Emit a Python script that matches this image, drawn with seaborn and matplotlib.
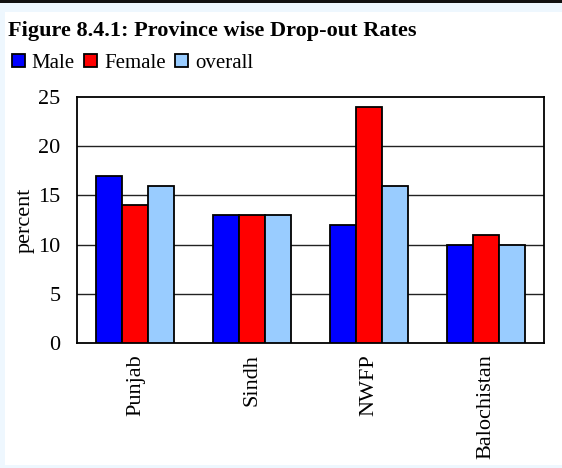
import pandas as pd
import matplotlib.pyplot as plt
import seaborn as sns
from matplotlib.patches import Rectangle, Patch

# Data
provinces = ['Punjab', 'Sindh', 'NWFP', 'Balochistan']
male = [17, 13, 12, 10]
female = [14, 13, 24, 11]
overall = [16, 13, 16, 10]
series_names = ['Male', 'Female', 'overall']
colors = ['#0000ff', '#ff0000', '#99ccff']
y_ticks = [0, 5, 10, 15, 20, 25]

df = pd.DataFrame({'province': provinces, 'Male': male, 'Female': female, 'overall': overall})
long_df = df.melt(id_vars='province', var_name='series', value_name='value')

sns.set_style('white')
plt.rcParams['font.family'] = ['Liberation Serif', 'DejaVu Serif']
plt.rcParams['text.color'] = 'black'
plt.rcParams['xtick.color'] = 'black'
plt.rcParams['ytick.color'] = 'black'
plt.rcParams['axes.labelcolor'] = 'black'

fig = plt.figure(figsize=(5.62, 4.68), dpi=100, facecolor='#eef7fe')
W, H = 562, 468

# white panel and top dark bar
fig.patches.append(Rectangle((5 / W, 3 / H), 1 - 5 / W, 1 - 15 / H, transform=fig.transFigure,
                             facecolor='white', edgecolor='none', zorder=-2))
fig.patches.append(Rectangle((0, 1 - 3 / H), 1, 3 / H, transform=fig.transFigure,
                             facecolor='#111111', edgecolor='none', zorder=-2))

ax = fig.add_axes([77 / W, 1 - 343 / H, (544 - 77) / W, (343 - 97) / H])
ax.set_zorder(1)
sns.barplot(data=long_df, x='province', y='value', hue='series', hue_order=series_names,
            palette=colors, width=0.67, edgecolor='black', linewidth=1.3,
            saturation=1, legend=False, ax=ax, zorder=3)

ax.set_ylim(0, 25)
ax.set_yticks(y_ticks)
ax.set_xlim(-0.5, 3.5)
for y in y_ticks[1:-1]:
    ax.axhline(y, color='#222222', linewidth=1, zorder=1)
for s in ax.spines.values():
    s.set_color('black')
    s.set_linewidth(1.3)
ax.set_xlabel('')
ax.set_ylabel('percent', fontsize=16)
ax.yaxis.set_label_coords((35 - 77) / 467, 0.5)
ax.tick_params(axis='y', labelsize=16, length=0, pad=12)
ax.tick_params(axis='x', labelsize=16, length=0, pad=8, labelrotation=90)

fig.text(8 / W, 1 - 31 / H, 'Figure 8.4.1: Province wise Drop-out Rates', fontsize=16,
         fontweight='bold', ha='left', va='center')

handles = [Patch(facecolor=c, edgecolor='black', linewidth=1.3) for c in colors]
fig.legend(handles, series_names, loc='center left', bbox_to_anchor=(12 / W, 1 - 63 / H),
           ncol=3, frameon=False, fontsize=15, handlelength=0.6, handleheight=0.6,
           handletextpad=0.35, columnspacing=0.45, borderaxespad=0, borderpad=0)

fig.savefig('out.png', dpi=100, facecolor=fig.get_facecolor())
